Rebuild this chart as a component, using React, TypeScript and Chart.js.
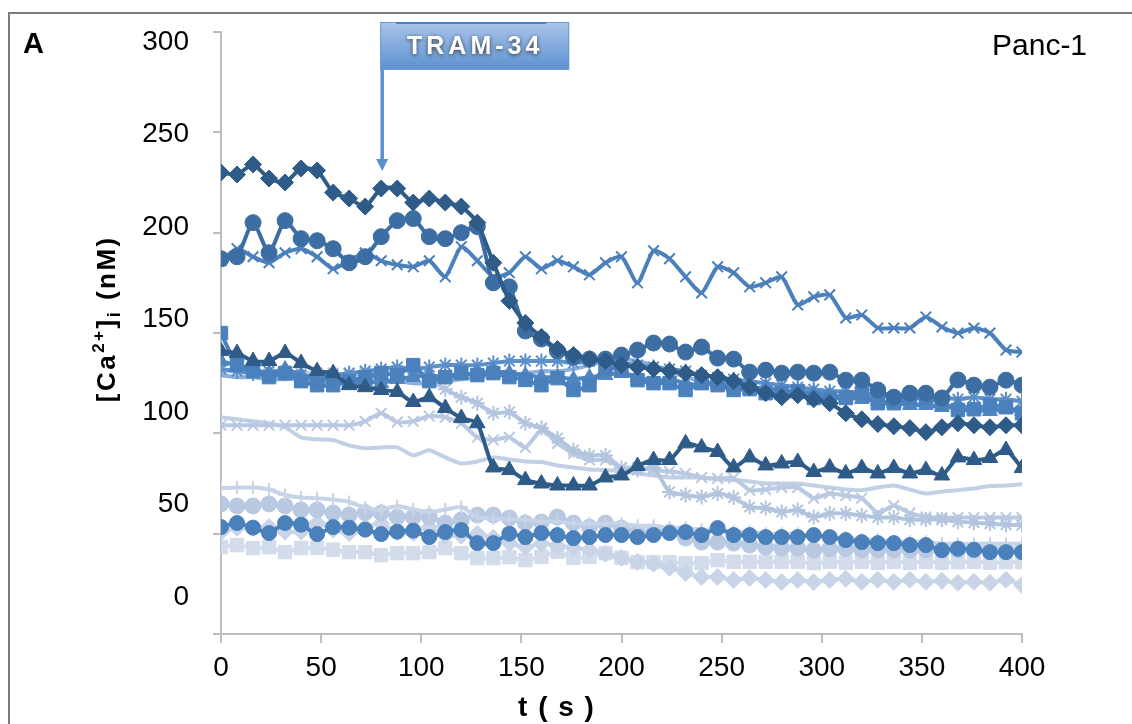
import { useEffect, useRef } from 'react';
import { Chart, registerables } from 'chart.js';

Chart.register(...registerables);

const times = [0, 8, 16, 24, 32, 40, 48, 56, 64, 72, 80, 88, 96, 104, 112, 120, 128, 136, 144, 152, 160, 168, 176, 184, 192, 200, 208, 216, 224, 232, 240, 248, 256, 264, 272, 280, 288, 296, 304, 312, 320, 328, 336, 344, 352, 360, 368, 376, 384, 392, 400];

const xTicks = [0, 50, 100, 150, 200, 250, 300, 350, 400];
const yTicks = [0, 50, 100, 150, 200, 250, 300];
const treatmentTime = 80;

const darkDiamonds = [230, 229, 234, 227, 225, 232, 231, 220, 217, 213,
  222, 222, 215, 217, 215, 213, 205, 185, 166, 155,
  148, 142, 139, 137, 136, 134, 133, 132, 131, 130,
  129, 128, 126, 123, 120, 118, 119, 117, 115, 110,
  107, 104.6, 103.5, 102.6, 100.6, 103, 105, 104, 103, 104,
  104];
const darkCircles = [187, 188, 205, 190, 206, 197, 196, 192, 185, 188,
  198, 206, 207, 198, 197, 200, 203, 175, 173, 151,
  147, 141, 138, 137, 137, 139, 141.5, 145, 144.5, 140.5,
  143, 137.5, 137, 130.5, 131.5, 130, 130.5, 130, 130.5, 126.5,
  126.5, 121.6, 118, 120, 120, 117.6, 126.6, 124, 123, 126.5,
  124];
const mediumCrosses = [186, 192, 188, 185, 190, 192, 188, 182, 186, 190,
  186, 184, 183, 186, 178, 193, 186, 178, 180, 188,
  182, 186, 183, 179, 185, 188, 175, 191, 187, 178,
  170, 183, 180, 173, 175, 178, 164, 168, 169, 157.5,
  159, 152.5, 152.5, 152.5, 158, 153, 150, 152.5, 150, 141.5,
  140.5];
const darkTriangles = [141, 140, 136, 136, 140, 135, 131, 130, 124, 123,
  121.6, 120.6, 115.6, 118, 112.6, 107.6, 105, 83, 81.7, 76.7,
  75, 74, 74, 74, 78, 79, 83.7, 86.7, 86.7, 95,
  93, 90.7, 83, 88, 84, 85, 85.7, 80.7, 83, 80,
  82.7, 80, 82.7, 80, 81.7, 79, 88, 86.7, 87.7, 91.7,
  82.7];
const mediumSquares = [150, 134, 131, 128, 130, 126, 124, 124, 126, 128,
  130, 129, 134, 126, 128, 130, 129, 130, 128, 126.6,
  124, 127.5, 121.6, 124, 132.5, 131.5, 126.5, 125, 125, 121.6,
  125, 124, 121.6, 122, 120, 120, 121, 117.6, 117.6, 117.6,
  120, 115, 115, 117.6, 117.6, 115, 111.6, 112, 114, 113,
  110];
const mediumTriangles = [136, 134, 132, 130, 132, 129, 127, 127, 125, 126,
  125, 127, 128, 129, 128, 129, 130, 131, 130, 129,
  128, 128, 127, 128, 129, 130, 128, 126, 127, 125,
  124, 125, 123, 122, 123, 121, 121, 120, 119, 118,
  117, 116, 115, 114, 114, 113, 114, 112, 111, 112,
  111];
const mediumStars = [132, 131, 130, 131, 130, 129, 128, 129, 130, 131,
  132, 133, 132, 133, 134, 134, 134, 135, 136, 136,
  136, 136, 135, 136, 136, 135, 134, 133, 132, 131,
  129, 128, 127, 126, 125, 124, 123, 122, 121, 121,
  120, 119, 118, 117, 118, 118, 117, 118, 117, 117,
  116];
const paleMediumLine = [129, 128, 128, 127, 127, 127, 126, 126, 126, 127,
  127, 126, 125, 125, 126, 127, 128, 129, 129, 130,
  131, 131, 132, 134, 136, 137, 136, 134, 131, 128,
  126, 125, 124, 123, 122, 121, 120, 119, 118, 118,
  117, 116, 115, 115, 114, 114, 113, 113, 112, 112,
  112];
const lightStarsFalling = [131, 131, 130, 130, 131, 130, 130, 130, 129, 130,
  130, 131, 131, 127, 122, 118, 115, 110, 110.6, 105,
  102.6, 97.6, 91.7, 89, 89, 82.7, 81.7, 82.7, 70.8, 69.3,
  68.3, 70, 68, 63.3, 62.8, 60.8, 61.8, 58.3, 60, 60,
  59, 58, 58, 57, 57, 57, 56, 55.5, 55, 54.5,
  54.3];
const lightCrosses = [104, 104, 104, 104, 104, 104, 104, 104, 104, 106,
  110, 105.6, 106, 108.6, 108, 105, 98, 96.7, 98, 93,
  101.6, 95, 90, 86.7, 86.7, 83, 83, 81.7, 81, 80,
  78, 77.5, 77.7, 71.7, 72, 73, 73, 67.7, 70, 69,
  67.7, 60.3, 64, 60.3, 58.3, 58, 58, 58, 58, 58,
  58];
const lightLine = [108, 107, 106, 105, 103, 98, 97, 96.6, 94, 92.6,
  93, 93, 89, 91.6, 88, 85, 86, 88, 87, 86,
  85.7, 84, 83, 82, 81.7, 81, 80, 79, 78, 78,
  78, 77, 76.7, 76, 75, 75, 75, 74, 73, 72,
  71.7, 73, 74, 72, 70, 71, 71.7, 72.5, 73.7, 74,
  74.7];
const lightPlus = [72.7, 73, 73, 72, 69.3, 68, 67.7, 67, 65.8, 63,
  61.8, 63.8, 62, 60.8, 62, 63.3, 58.3, 57.5, 57, 56.8,
  56, 56, 55, 55, 55, 55, 54, 54, 53, 53,
  52, 52, 51, 51, 50, 50, 50, 49, 48, 48,
  47, 47, 46, 46, 46, 45, 45, 45, 45, 45,
  45];
const lightCircles = [64.8, 63.8, 63.8, 64.8, 63.8, 61.8, 61.8, 60.3, 59.3, 60.5,
  60.3, 58.3, 58.3, 58.3, 55.3, 56.8, 59.3, 59.3, 57.8, 55.3,
  55.8, 58.3, 55.3, 53.3, 55.3, 52.8, 50.8, 50.8, 50.8, 47.8,
  45.8, 45.8, 45.3, 44.3, 43.3, 42.8, 42.8, 41.8, 42.5, 42.5,
  42, 42, 42, 41.8, 42, 41.8, 42, 41.8, 42, 41.8,
  41.8];
const mediumCircles = [53.3, 55.3, 53, 50.3, 55.3, 54.5, 49.8, 53.3, 53, 52,
  49.8, 51, 51.5, 48.3, 50.8, 51.8, 45.3, 45.3, 50, 48.3,
  50.3, 49.3, 47.8, 48.3, 49.3, 49.3, 48.3, 49.3, 50.3, 50.8,
  49.3, 52.8, 49.3, 49.3, 48.3, 48.3, 48.3, 49.3, 48.3, 46.8,
  45.8, 45.3, 45.3, 44.3, 44.3, 41.8, 42.5, 42, 40.8, 40.8,
  40.8];
const lightDiamonds = [50.8, 52.8, 52.8, 53.3, 51, 51, 55.3, 52, 50.3, 53.3,
  55, 50.8, 50.3, 53.3, 49, 49, 50, 48, 45.3, 43.3,
  45, 44, 43, 42, 40, 38, 36, 35, 33, 30.4,
  28.4, 28.4, 26.9, 27.9, 26.9, 25.9, 26.9, 25.9, 26.9, 27.5,
  26, 27, 26, 27, 26, 26.5, 25.5, 26, 25.5, 27,
  24.4];
const lightSquares = [43.3, 44.3, 42.8, 43.3, 40.8, 42.8, 43, 42, 40.8, 40.8,
  39.3, 40.3, 40.3, 40.8, 42.8, 40.3, 37.8, 37.8, 38.3, 36.8,
  38.5, 41, 38, 38.5, 40.3, 38, 35.8, 35.8, 35.8, 35.3,
  35.3, 36.8, 36, 36, 36, 36, 36, 35.3, 36, 35.5,
  36, 35.5, 36, 35.5, 36, 35.5, 35.8, 36, 35.5, 35.8,
  35.8];

type SeriesDef = { data: number[]; color: string; marker: string | false; radius: number; markerWidth: number };

const seriesDefs: SeriesDef[] = [
  { data: darkDiamonds, color: '#2f5b88', marker: 'rectRot', radius: 8.5, markerWidth: 1 },
  { data: darkTriangles, color: '#2f5b88', marker: 'triangle', radius: 9, markerWidth: 1 },
  { data: darkCircles, color: '#3d6ea3', marker: 'circle', radius: 8, markerWidth: 1 },
  { data: mediumCrosses, color: '#4b80bb', marker: 'crossRot', radius: 7.5, markerWidth: 2 },
  { data: mediumSquares, color: '#4a81bd', marker: 'rect', radius: 9.5, markerWidth: 1 },
  { data: mediumTriangles, color: '#4f86c2', marker: 'triangle', radius: 8.5, markerWidth: 1 },
  { data: mediumStars, color: '#5d90c9', marker: 'star', radius: 7.5, markerWidth: 2 },
  { data: mediumCircles, color: '#4a80bb', marker: 'circle', radius: 7.5, markerWidth: 1 },
  { data: paleMediumLine, color: '#8cb0da', marker: false, radius: 0, markerWidth: 0 },
  { data: lightStarsFalling, color: '#b3c4df', marker: 'star', radius: 7.5, markerWidth: 2 },
  { data: lightCrosses, color: '#b9c9e2', marker: 'crossRot', radius: 7.5, markerWidth: 2 },
  { data: lightLine, color: '#c2d0e6', marker: false, radius: 0, markerWidth: 0 },
  { data: lightPlus, color: '#c7d3e7', marker: 'cross', radius: 6.5, markerWidth: 2 },
  { data: lightCircles, color: '#b9c9e1', marker: 'circle', radius: 8, markerWidth: 1 },
  { data: lightDiamonds, color: '#c9d4e8', marker: 'rectRot', radius: 8.5, markerWidth: 1 },
  { data: lightSquares, color: '#d3dcea', marker: 'rect', radius: 9.5, markerWidth: 1 },
];

const FONT = "'Liberation Sans', Arial, sans-serif";

function spacedWidth(ctx: CanvasRenderingContext2D, text: string, sp: number) {
  let w = 0;
  for (const ch of text) w += ctx.measureText(ch).width + sp;
  return w;
}
function drawSpaced(ctx: CanvasRenderingContext2D, text: string, x: number, y: number, sp: number) {
  for (const ch of text) {
    ctx.fillText(ch, x, y);
    x += ctx.measureText(ch).width + sp;
  }
  return x;
}

const decorPlugin = {
  id: 'decor',
  afterDraw(chart: any) {
    const ctx: CanvasRenderingContext2D = chart.ctx;
    const xs = chart.scales.x;
    ctx.save();
    // frame
    ctx.strokeStyle = '#7d7d7d';
    ctx.lineWidth = 2;
    ctx.beginPath();
    ctx.moveTo(9, 724);
    ctx.lineTo(9, 13);
    ctx.lineTo(1132, 13);
    ctx.stroke();

    ctx.fillStyle = '#000';
    ctx.textBaseline = 'alphabetic';
    ctx.textAlign = 'left';
    ctx.font = `bold 29px ${FONT}`;
    ctx.fillText('A', 23, 53);
    ctx.font = `30px ${FONT}`;
    ctx.fillText('Panc-1', 992, 55);

    // x title
    ctx.font = `bold 28px ${FONT}`;
    const xt = 't ( s )';
    const xw = spacedWidth(ctx, xt, 1.5) - 1.5;
    drawSpaced(ctx, xt, 556 - xw / 2, 716, 1.5);

    // y title
    ctx.save();
    ctx.translate(115, 320);
    ctx.rotate(-Math.PI / 2);
    const parts = [
      { t: '[Ca', f: `bold 26px ${FONT}`, dy: 0 },
      { t: '2+', f: `bold 17px ${FONT}`, dy: -11 },
      { t: ']', f: `bold 26px ${FONT}`, dy: 0 },
      { t: 'i', f: `bold 18px ${FONT}`, dy: 5 },
      { t: ' (nM)', f: `bold 26px ${FONT}`, dy: 0 },
    ];
    const sp = 2.5;
    let total = 0;
    for (const p of parts) { ctx.font = p.f; total += spacedWidth(ctx, p.t, sp); }
    total -= sp;
    let cx = -total / 2;
    for (const p of parts) { ctx.font = p.f; cx = drawSpaced(ctx, p.t, cx, p.dy, sp); }
    ctx.restore();

    // TRAM-34 box and arrow
    const ax = xs.getPixelForValue(treatmentTime);
    const bx = ax - 1, by = 22, bw = 189, bh = 48;
    const g = ctx.createLinearGradient(0, by, 0, by + bh);
    g.addColorStop(0, '#aac5e9');
    g.addColorStop(1, '#5b90d0');
    ctx.fillStyle = g;
    ctx.fillRect(bx, by, bw, bh);
    ctx.strokeStyle = '#6a9bd6';
    ctx.lineWidth = 1;
    ctx.strokeRect(bx + 0.5, by + 0.5, bw - 1, bh - 1);
    ctx.fillStyle = '#4a7fc0';
    ctx.fillRect(bx + 16, by, 150, 2);

    ctx.font = `bold 25px ${FONT}`;
    const label = 'TRAM-34';
    const lw = spacedWidth(ctx, label, 4) - 4;
    ctx.save();
    ctx.shadowColor = 'rgba(40,40,40,0.85)';
    ctx.shadowBlur = 4;
    ctx.shadowOffsetX = 0;
    ctx.shadowOffsetY = 1;
    ctx.fillStyle = '#ffffff';
    drawSpaced(ctx, label, bx + 28 + (130 - lw) / 2, 54, 4);
    ctx.restore();

    ctx.strokeStyle = '#5b8fcf';
    ctx.lineWidth = 3.5;
    ctx.beginPath();
    ctx.moveTo(ax + 1, by + bh);
    ctx.lineTo(ax + 1, 161);
    ctx.stroke();
    ctx.fillStyle = '#5b8fcf';
    ctx.beginPath();
    ctx.moveTo(ax - 5, 159);
    ctx.lineTo(ax + 7, 159);
    ctx.lineTo(ax + 1, 171);
    ctx.closePath();
    ctx.fill();
    ctx.restore();
  },
};

export default function App() {
  const ref = useRef<HTMLCanvasElement | null>(null);
  useEffect(() => {
    if (!ref.current) return;
    const datasets = seriesDefs.map((s) => ({
      data: s.data.map((v, i) => ({ x: times[i], y: v })),
      borderColor: s.color,
      backgroundColor: s.color,
      borderWidth: 4,
      tension: 0.2,
      pointStyle: s.marker === false ? 'circle' : s.marker,
      pointRadius: s.marker === false ? 0 : s.radius,
      pointBorderWidth: s.markerWidth,
      pointBackgroundColor: s.color,
      pointBorderColor: s.color,
      fill: false,
    }));
    const chart = new Chart(ref.current, {
      type: 'line',
      data: { datasets: datasets as any },
      options: {
        animation: false,
        responsive: false,
        devicePixelRatio: 1,
        layout: { padding: { left: 0, top: 32, right: 110, bottom: 0 } },
        plugins: { legend: { display: false }, tooltip: { enabled: false } },
        scales: {
          x: {
            type: 'linear',
            min: xTicks[0],
            max: xTicks[xTicks.length - 1],
            afterBuildTicks: (s: any) => { s.ticks = xTicks.map((v) => ({ value: v })); },
            afterFit: (s: any) => { s.height = 90; },
            ticks: { font: { size: 28, family: FONT }, color: '#000', padding: 8, maxRotation: 0 },
            grid: { drawOnChartArea: false, drawTicks: true, tickLength: 9, color: '#bdbdbd', lineWidth: 2 },
            border: { display: true, color: '#bdbdbd', width: 2 },
          },
          y: {
            type: 'linear',
            position: 'left',
            weight: 0,
            min: yTicks[0],
            max: yTicks[yTicks.length - 1],
            afterBuildTicks: (s: any) => { s.ticks = yTicks.map((v) => ({ value: v })); },
            afterFit: (s: any) => { s.width = 10; },
            ticks: { display: false },
            grid: { drawOnChartArea: false, drawTicks: true, tickLength: 8, color: '#bdbdbd', lineWidth: 2 },
            border: { display: true, color: '#bdbdbd', width: 2 },
          },
          ylab: {
            type: 'linear',
            position: 'left',
            weight: 1,
            min: -20,
            max: 305.4,
            afterBuildTicks: (s: any) => { s.ticks = yTicks.map((v) => ({ value: v })); },
            afterFit: (s: any) => { s.width = 211; },
            ticks: { font: { size: 28, family: FONT }, color: '#000', padding: 14 },
            grid: { display: false },
            border: { display: false },
          },
        },
      },
      plugins: [decorPlugin],
    });
    return () => chart.destroy();
  }, []);
  return (
    <div style={{ position: 'absolute', left: 0, top: 0, width: 1132, height: 724, background: '#fff' }}>
      <canvas ref={ref} width={1132} height={724} style={{ width: 1132, height: 724 }} />
    </div>
  );
}
